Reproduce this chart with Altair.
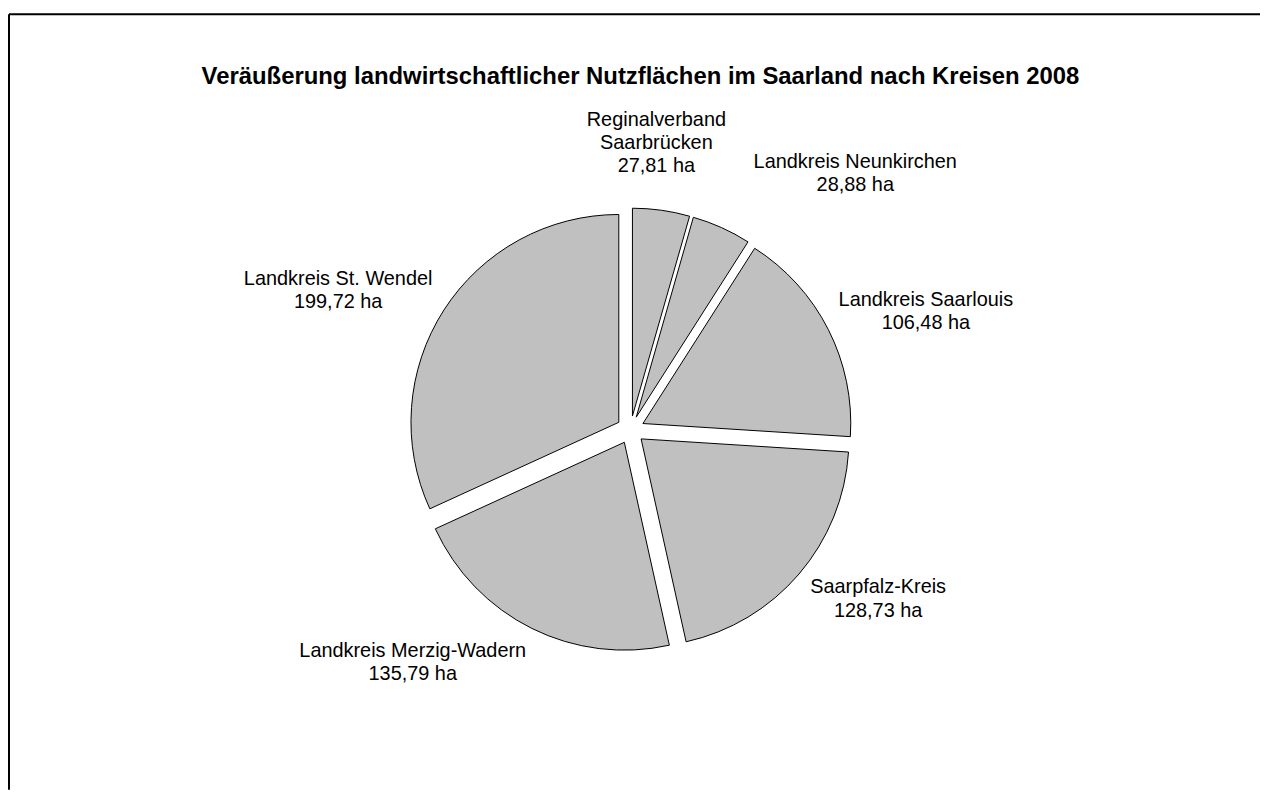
import altair as alt
import pandas as pd

# ---- data ----
TITLE = "Veräußerung landwirtschaftlicher Nutzflächen im Saarland nach Kreisen 2008"
kreise = [
    "Reginalverband\nSaarbrücken",
    "Landkreis Neunkirchen",
    "Landkreis Saarlouis",
    "Saarpfalz-Kreis",
    "Landkreis Merzig-Wadern",
    "Landkreis St. Wendel",
]
hektar = [27.81, 28.88, 106.48, 128.73, 135.79, 199.72]

# ---- layout (view coordinates, px) ----
CX, CY, R, EXPLODE = 625, 418, 209, 14
label_x = [651, 851, 922, 874, 406, 331]   # centre of each label block
label_y = [106, 148.5, 287, 576.5, 640, 266]  # centre of first label line
W, H = 1258, 780

df = pd.DataFrame({
    "kreis": [k.replace("\n", " ") for k in kreise],
    "hektar": hektar,
    "order": list(range(len(kreise))),
    "label": [k.split("\n") + [f"{v:.2f}".replace(".", ",") + " ha"] for k, v in zip(kreise, hektar)],
    "lx": label_x,
    "ly": label_y,
})

base = (
    alt.Chart(df)
    .transform_joinaggregate(total="sum(hektar)")
    .transform_window(cum="sum(hektar)", sort=[alt.SortField("order")], frame=[None, 0])
    .transform_calculate(t0="2*PI*(datum.cum - datum.hektar)/datum.total")
    .transform_calculate(t1="2*PI*datum.cum/datum.total")
    .transform_calculate(tm="(datum.t0 + datum.t1)/2")
    .transform_calculate(cx=f"{CX} + {EXPLODE}*sin(datum.tm)")
    .transform_calculate(cy=f"{CY} - {EXPLODE}*cos(datum.tm)")
)

slices = base.mark_arc(outerRadius=R, fill="#C0C0C0", stroke="black", strokeWidth=1).encode(
    theta=alt.Theta("t0:Q", scale=None),
    theta2="t1:Q",
    x=alt.X("cx:Q", scale=None, axis=None),
    y=alt.Y("cy:Q", scale=None, axis=None),
    tooltip=["kreis:N", "hektar:Q"],
)

labels = alt.Chart(df).mark_text(
    font="Liberation Sans", fontSize=20, lineHeight=23.5, align="center", baseline="middle", color="black"
).encode(
    x=alt.X("lx:Q", scale=None, axis=None),
    y=alt.Y("ly:Q", scale=None, axis=None),
    text="label",
)

title = alt.Chart(pd.DataFrame({"t": [TITLE]})).mark_text(
    font="Liberation Sans", fontSize=24, fontWeight="bold", align="center", baseline="middle", color="black"
).encode(text="t:N", x=alt.value(635), y=alt.value(63))

frame_top = alt.Chart(pd.DataFrame({"a": [0]})).mark_rule(color="black", strokeWidth=2).encode(
    x=alt.value(0), x2=alt.value(W), y=alt.value(0)
)
frame_left = alt.Chart(pd.DataFrame({"a": [0]})).mark_rule(color="black", strokeWidth=2).encode(
    x=alt.value(0), y=alt.value(0), y2=alt.value(H)
)

chart = alt.layer(frame_top, frame_left, title, slices, labels).properties(
    width=W, height=H, autosize="none",
    padding={"left": 1, "top": 4, "right": 0, "bottom": 0},
).configure_view(stroke=None)

chart.save("out.html", embed_options={"renderer": "svg", "actions": False})
